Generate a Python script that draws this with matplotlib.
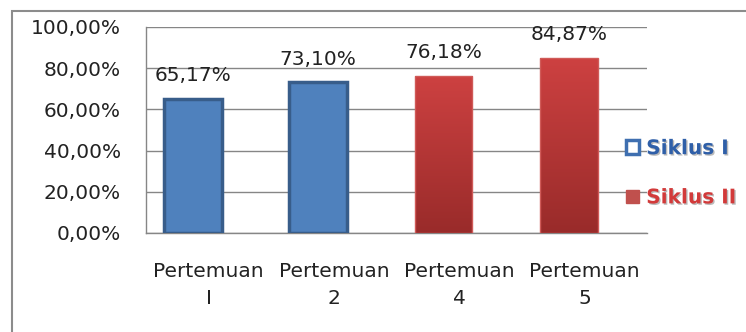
import numpy as np
import matplotlib.pyplot as plt
from matplotlib.patches import Patch, Rectangle
from matplotlib.colors import LinearSegmentedColormap
import matplotlib.patheffects as pe

plt.rcParams['font.family'] = ['DejaVu Sans']

categories = ['Pertemuan\nI', 'Pertemuan\n2', 'Pertemuan\n4', 'Pertemuan\n5']
values = [65.17, 73.10, 76.18, 84.87]
series = ['Siklus I', 'Siklus I', 'Siklus II', 'Siklus II']
yticks = [0, 20, 40, 60, 80, 100]

BLUE = '#4F81BD'
BLUE_EDGE = '#385D8A'
RED_TOP = '#CD4141'
RED_BOT = '#992B2A'
TXT = '#222222'

fig = plt.figure(figsize=(7.46, 3.32), dpi=100)
ax = fig.add_axes([146 / 746, 1 - 233 / 332, (647 - 146) / 746, (233 - 27) / 332])

# outer chart border
fig.patches.append(Rectangle((12 / 746, -0.05), 1.0, 1 - 11 / 332 + 0.05,
                             transform=fig.transFigure, fill=False,
                             edgecolor='#8C8C8C', linewidth=1.5))

x = np.arange(len(categories))
offset = -0.125
width = 0.46
red_cmap = LinearSegmentedColormap.from_list('redgrad', [RED_BOT, RED_TOP])
grad = np.linspace(0, 1, 256).reshape(-1, 1)

for i, (v, s) in enumerate(zip(values, series)):
    xc = x[i] + offset
    if s == 'Siklus I':
        ax.bar(xc, v, width=width, color=BLUE, edgecolor=BLUE_EDGE,
               linewidth=2.5, zorder=3)
    else:
        ax.imshow(grad, cmap=red_cmap, origin='lower', aspect='auto',
                  extent=[xc - width / 2, xc + width / 2, 0, v], zorder=3)
        ax.bar(xc, v, width=width, facecolor='none', edgecolor='#D05A58',
               linewidth=1.0, zorder=4)
    ax.annotate(f'{v:.2f}%'.replace('.', ','), (xc, v), xytext=(0, 10),
                textcoords='offset points', ha='center', va='bottom',
                fontsize=14.5, color=TXT, zorder=5)

ax.set_xlim(-0.5, 3.5)
ax.set_ylim(0, 100)
ax.set_yticks(yticks)
ax.set_yticklabels([f'{t},00%' for t in yticks])
ax.set_xticks(x)
ax.set_xticklabels(categories, linespacing=1.5)
ax.tick_params(axis='both', length=0, labelsize=14.5, labelcolor=TXT)
ax.tick_params(axis='y', pad=18)
ax.tick_params(axis='x', pad=21)
ax.grid(axis='y', color='#868686', linewidth=1.0, zorder=0)
ax.set_axisbelow(True)
for side in ['top', 'right']:
    ax.spines[side].set_visible(False)
for side in ['left', 'bottom']:
    ax.spines[side].set_color('#868686')
    ax.spines[side].set_linewidth(1.0)

handles = [Patch(facecolor='white', edgecolor='#3F6FB0', linewidth=2.5),
           Patch(facecolor='#C0504D', edgecolor='#C0504D')]
leg = ax.legend(handles, ['Siklus I', 'Siklus II'], loc='center left',
                bbox_to_anchor=(0.922, 0.29), frameon=False,
                labelspacing=1.5, handlelength=0.65, handleheight=0.65,
                handletextpad=0.35, prop={'weight': 'bold', 'size': 14.5})
for txt, col in zip(leg.get_texts(), ['#2F5FA8', '#D23A3A']):
    txt.set_color(col)
    txt.set_path_effects([pe.withSimplePatchShadow(offset=(1, -1), shadow_rgbFace='#777777', alpha=0.5)])

fig.savefig('out.png', dpi=100)
